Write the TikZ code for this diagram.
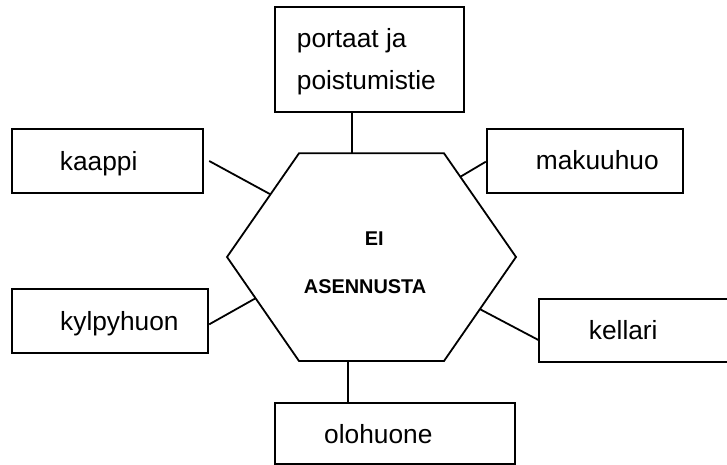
\documentclass[tikz,border=0pt]{standalone}
\usepackage{fontspec}
\setmainfont{Liberation Sans}
\usetikzlibrary{positioning}

\begin{document}
\begin{tikzpicture}[x=1bp, y=-1bp, line width=1.8bp,
    room/.style={draw, rectangle, inner sep=0pt},
    roomtext/.style={anchor=base west, inner sep=0pt, align=left, font=\fontsize{26.3bp}{42.3bp}\selectfont},
    hextext/.style={anchor=base west, inner sep=0pt, font=\fontsize{19.9bp}{24bp}\selectfont\bfseries}]
    \useasboundingbox (0,0) rectangle (727,465);

    % Hexagon
    \draw (299,153.3) -- (444,153.3) -- (516,257) -- (444,361) -- (299,361) -- (227,257) -- cycle;
    \node[hextext] (ei) at (364,246) {EI};
    \node[hextext] (asennusta) at (303,294) {ASENNUSTA};

    % Points on the hexagon
    \coordinate (hportaat) at (351.7,153.3);
    \coordinate (hkaappi) at (269.8,194);
    \coordinate (hmakuuhuo) at (460.5,176.7);
    \coordinate (hkylpyhuon) at (255.5,298.3);
    \coordinate (hkellari) at (480.2,309.3);
    \coordinate (holohuone) at (347.7,361);

    % Rooms
    \node[room, minimum width=189bp, minimum height=105bp] (portaat) at (369.5,59.8) {};
    \node[room, minimum width=191.6bp, minimum height=63.4bp] (kaappi) at (107.5,161) {};
    \node[room, minimum width=196.6bp, minimum height=63.4bp] (makuuhuo) at (585,161) {};
    \node[room, minimum width=196.6bp, minimum height=63.7bp] (kylpyhuon) at (110,320.85) {};
    \node[room, minimum width=200.7bp, minimum height=63.3bp] (kellari) at (639.65,330.65) {};
    \node[room, minimum width=240.3bp, minimum height=60.7bp] (olohuone) at (395.15,433.65) {};

    \node[roomtext] (portaattxt) at (296,90) {portaat ja\\poistumistie};
    \node[roomtext] (kaappitxt) at (59,170.7) {kaappi};
    \node[roomtext] (makuuhuotxt) at (535,170) {makuuhuo};
    \node[roomtext] (kylpyhuontxt) at (59.3,330.7) {kylpyhuon};
    \node[roomtext] (kellaritxt) at (588,340) {kellari};
    \node[roomtext] (olohuonetxt) at (323.3,443) {olohuone};

    % Lines
    \draw (hportaat) -- (hportaat |- portaat.south);
    \draw ([xshift=5bp]kaappi.east) -- (hkaappi);
    \draw ([yshift=-0.7bp]makuuhuo.west) -- (hmakuuhuo);
    \draw ([yshift=-3.5bp]kylpyhuon.east) -- (hkylpyhuon);
    \draw ([yshift=-9.35bp]kellari.west) -- (hkellari);
    \draw (holohuone) -- (holohuone |- olohuone.north);
\end{tikzpicture}
\end{document}
